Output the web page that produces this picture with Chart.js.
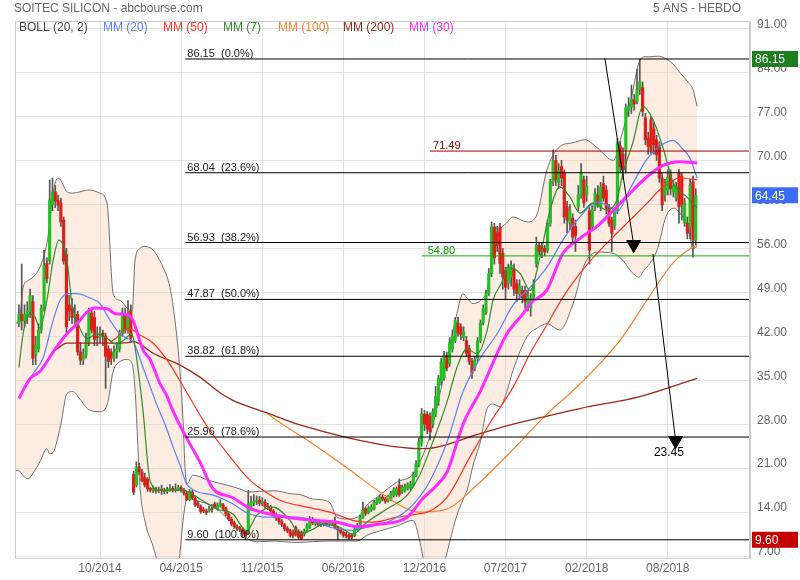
<!DOCTYPE html>
<html>
<head>
<meta charset="utf-8">
<script src="https://cdn.jsdelivr.net/npm/chart.js@4.4.0/dist/chart.umd.min.js"></script>
<style>
  html, body { margin: 0; padding: 0; background: #fff; }
  #wrap { width: 800px; height: 580px; }
</style>
</head>
<body>
<div id="wrap"><canvas id="chart" width="800" height="580"></canvas></div>
<script>
// weekly candles, index 0 = first week shown
const tickWeeks = [29, 58, 87, 116, 145, 174, 203, 232];
const tickLabels = ['10/2014', '04/2015', '11/2015', '06/2016', '12/2016', '07/2017', '02/2018', '08/2018'];
const yTicks = [7, 14, 21, 28, 35, 42, 49, 56, 63, 70, 77, 84, 91];

const opens = [44,45.5,44.5,45,46,47.5,39,40,43,46.5,
  53.6,54,63,65,63.7,63.2,60.5,55,47,46.5,
  45,45.5,39.5,38.3,39,41,45.7,45,42,41.8,
  42.5,42,40,39.5,38.5,39.5,40,42.4,45.5,43,
  46,20,18.3,21.2,20.4,19.5,19.3,17.8,17.5,17.7,
  17.4,17.6,17.5,17.3,17.6,17.8,17.5,17.7,17.9,17.5,
  17,16,17.2,16.2,15.4,14.9,14.3,14.2,14.2,14.5,
  15.3,14.6,15,15.2,14.6,13.7,12.9,12.3,11.7,11.5,
  11.3,10.8,10.8,14.8,15.5,15.7,15.9,15.4,15.6,14.9,
  14.8,14.2,13.6,13,12.5,12,11.4,11.1,10.7,11.6,
  10.9,10.8,10.5,11,11.6,12.8,12.2,12.4,12,12.1,
  12.2,12,12.1,12.2,11.5,11.2,10.8,10.5,10.3,10.4,
  10.3,11.3,11.9,13.2,14.5,13.9,14.4,14.5,15.5,15.6,
  16.4,16.1,15.8,16,16.7,16.8,18.3,17.2,17.5,17.8,
  17.8,18.3,19.9,21.5,25,29.6,29.6,29.3,28,29.6,
  31.6,34.8,35.3,38.9,37.7,40,41.3,44.1,43.5,41.8,
  41.3,40.1,38,37,38.5,41.3,44.1,45.8,48.8,52,
  59.4,58.5,59.4,55.2,52.5,50.5,51.5,52.8,50.4,48.8,
  49.3,49.3,46.8,46.5,48.1,53.6,56.5,56.3,56,55.7,
  60,66.6,70,66.5,69,68,62.6,60,60.8,59.5,
  62.6,64.5,66.9,64.5,62,59.4,62.6,64.5,62.6,66.3,
  65.3,62.5,60.5,59.7,62.1,72.3,71,71.7,78,78.5,
  79.6,79.4,81.3,81.6,76.8,73.5,76.5,75,73.3,72.2,
  67.2,64.5,65.3,67.8,65,64,68,67.5,60,60,
  59.4,66.6,57.3];
const highs = [47,53.5,47,47.5,49.5,48.5,42,44,47,55.7,
  54.5,66.9,67.2,66,64.5,64,61,56,48.5,48,
  47,46,41,40,42.5,46.5,46.5,46,43.5,43.5,
  43,42.5,40.5,40,40.5,41,43,46.5,46.5,47.7,
  47,20.5,22,21.8,20.8,20.2,19.5,18,18.2,18,
  18,18.3,17.8,18,18.4,18.1,18.5,18.3,18.2,17.8,
  17.3,17.6,17.5,16.5,15.8,15.2,14.8,14.5,15,15.2,
  15.6,15.5,16,15.4,14.8,14,13.2,12.6,12,11.8,
  11.5,11,17.5,16.5,16.8,16.6,16.5,16.3,16,15.4,
  15.1,14.4,13.9,13.3,12.8,12.2,11.7,11.3,11.2,11.8,
  11.2,11,11.3,12.2,13.3,13.2,12.9,12.7,12.6,12.6,
  12.5,12.5,12.6,13.2,11.8,11.4,11,10.8,10.6,10.6,
  11.5,12.2,13.5,15.6,14.8,15,15.2,15.9,16.3,16.7,
  16.8,16.4,16.7,17.3,17.9,18,19.3,18.3,18.5,18.7,
  18.9,20.4,22.2,25.8,30.5,30.2,30,29.8,30.5,34,
  35.8,38.5,39.6,39.5,41.8,43,45,45,44,43.5,
  42,40.6,38.5,38.8,41.8,44.6,47,49.3,52.8,60.2,
  60,59.5,60,56,53,53.5,54,53.5,51,51,
  50,50,49.3,48.8,51,57.8,57,56.8,56.5,60.5,
  67,71.7,70.8,69.5,70,68.5,63.5,63,61.5,60.5,
  66,69.5,67.5,67.5,62.5,62.8,65.5,66,66.5,67.5,
  66,63,61,62.5,73.5,73,72,79,80,82,
  80.5,84.5,86.15,82.5,77.5,74.5,77,76,74,73,
  68,67,68.5,68.5,66.8,66.5,68.6,68,64,61,
  67,67.5,65.5];
const lows = [43.5,43,43.5,44,45,37.5,37.5,39.5,42.5,46,
  50.5,53.5,62,62.5,62,59.5,53.5,42.5,44.5,44,
  43.5,39,37.5,37.5,38.5,40.5,42.5,40.5,40.5,41,
  40.5,33.7,37,37.5,38,38.5,39.5,42,42.5,42.5,
  41,16.8,18,20,18.8,18,17.3,17.2,17.1,17,
  17.1,16.8,16.9,17,17.3,17.2,17.2,17.4,17.2,16.7,
  15.8,15.8,16,14.9,14.7,13.8,13.9,13.6,14,14,
  14.6,14.3,14.8,14.2,13.4,12.6,11.8,11.4,11,10.9,
  10,9.6,10.5,14.3,15,15.2,15,15,14.6,14.4,
  13.9,13.3,12.7,12.1,11.7,11,10.7,10,9.9,10.2,
  9.7,9.6,10.2,10.8,11.4,12,11.8,11.7,11.7,11.8,
  11.8,11.7,11.8,11.3,9.6,10.5,10,9.9,9.7,9.7,
  10.1,11.1,11.7,13,13.5,13.7,14.1,14.3,15.2,15.4,
  15.8,15.4,15.6,15.8,16.4,16.5,16.5,17,17.2,17.5,
  17.5,18,19.6,21.2,24.5,27,26.5,25.5,27.5,29.2,
  31,34.2,35,36.5,37.2,39.5,41,42,41.5,41.3,
  38.8,37.5,35.3,36.5,38,41,43.8,45.5,48.5,51.5,
  53.5,55.5,52,49.5,47.8,49.5,50,48.5,47.5,48,
  47.3,46.5,46,45.2,47.8,53,55,54.5,54.8,55.3,
  59.5,66,66,65.5,66,60,58.5,59,57,55.5,
  62,64,62.5,63.5,53.5,58.8,62,62.5,62,63.5,
  61.5,59.5,55.5,59,61.5,68,67,68,77,77.5,
  78,79,80.5,77,72.5,71,71,71,70,66.5,
  62,63.5,64.5,64.5,64.2,63.5,60,60.5,59.5,57.5,
  57.5,54.6,56.5];
const closes = [45.5,44.5,45.5,46,48.5,38.5,40.5,43,46.5,53.3,
  51.2,63.7,65,63.5,62.9,60.2,54,43.5,46,45,
  45.5,39.5,38.2,39,41,45.7,43,41.5,41.8,42.5,
  42,38.8,38,38.5,39.5,40,42.4,45.7,43,45.7,
  41.7,17.2,21.2,20.4,19,18.3,17.7,17.5,17.7,17.4,
  17.6,17.5,17.3,17.6,17.8,17.5,17.7,17.9,17.5,17,
  16,17.3,16.3,15.2,15,14.1,14.2,13.9,14.5,14.4,
  14.8,15.1,15.4,14.5,13.7,12.9,12.1,11.7,11.4,11.3,
  10.5,10.2,15.3,15.6,15.7,15.9,15.4,15.7,14.9,14.8,
  14.2,13.6,13,12.5,12,11.3,11,10.3,10.2,10.5,
  10,9.8,11,11.9,12.9,12.3,12.5,12,12.2,12.3,
  12,12.1,12.2,11.5,11.2,10.8,10.3,10.2,9.9,10,
  11.3,11.9,13.2,14.3,13.8,14.6,14.8,15.6,16,16.4,
  16.1,15.7,16.4,17,17.5,17.7,16.8,17.9,18.1,18.3,
  18.5,20,21.7,25.2,29.6,28,27.2,26.8,30,32.4,
  35.3,38,38.9,37,41,42,44.5,42.5,42.3,42.7,
  39.3,38,36.1,38.2,41.3,44.1,46.4,48.8,52,59.4,
  54.5,56.5,53.6,51.4,49.8,52.8,53.3,49.5,48.8,50,
  48.1,47.5,48.5,48,50.2,56.5,55.5,55.6,55.4,60,
  66.6,70,66.9,68.5,67.2,61,60.5,62,57.8,58,
  64.5,68,63.2,66,55.7,62.1,64.8,63.2,65.8,64,
  62.4,60,58.4,62,72.8,69,68.5,78.4,78.6,79.8,
  79,81.3,82.5,77.8,73.3,72.2,71.7,72.5,70.9,67.2,
  62.9,66.3,67.4,65.5,66,65.8,62.6,63,63.2,58.4,
  66,57.3,64.45];

// Bollinger (20, 2): week index, upper, lower
const bandWeek = [-1.4,0,1.5,3.3,5,7.5,10,11,12.2,14,15,17.2,19.3,21.8,25,28.9,31.5,33.7,36.2,38.7,
  40.5,41.5,43.3,45.1,48,51.5,54,55.8,57.6,58.7,59.4,60.1,62.2,67.6,70.9,74.4,79,82,86,91.5,
  97.5,100.5,105,111,113.7,117.3,121,124.4,129,135.2,140.9,143.4,146,147.5,151.5,156.6,158.8,160.4,162.4,165,
  167.4,169.6,172,174.3,176.6,181.8,185.3,188.8,193.4,198,202.3,206.8,212.5,215.5,219,221.6,223.5,225.6,228.4,231.3,
  234.2,236.7,239.2,241,242.5];
const bandUpper = [44.1,44.3,49.8,50.9,51.4,53,56.8,60,64.8,67.2,66.8,65,64.8,65,65.3,64.8,63.2,48.8,47.7,46.5,
  46,54,56,56.3,55.7,53,49.8,44.5,36.4,28.4,21,18.5,19.9,19.1,18.7,18.3,17.7,17.2,17.3,17.4,
  16.9,16.8,16.1,15.6,13.2,12.9,13.2,15.1,16.7,18.8,20,22,24.8,27,34.8,45.6,48.8,48,47.2,47.7,
  49.3,55,58.9,60,61,60.2,61.5,68.5,72.2,72.8,73.3,72,70,74,80,85.5,86.5,86.5,86.6,86.2,
  85.2,83.8,82.5,81.3,78.6];
const bandLower = [20.6,20.6,19.8,19.3,20.2,22,24.1,23.3,23.5,26,28,32.9,33.2,32,30.3,30,31,36.4,38,38.3,
  37.6,33.7,18,12.5,8.5,3,0,0,7.5,12.7,15,16.5,16,15.3,14.5,13,11.3,9.7,9.3,9.4,
  9.2,9.2,9.3,9.4,9.4,9.4,9.4,10.3,11,11.8,12.7,9.2,3,0,5,13.5,16,17.7,21.5,25.2,
  30.5,31.2,30.8,33,36.5,42,43.3,44,43,47,53.5,55.4,55.2,54.3,52.3,51.4,52.5,53.6,56,61,
  62.4,61.4,59.4,56,56.3];

// moving averages: [week index, value]
const mm20 = [[3.3,34.5],[5,36],[8.6,38.5],[12.2,44.5],[14.7,47.7],[17.6,48.8],[20.8,48.8],[25.4,48.1],[29,47.2],[32.6,44.5],
  [36.1,42.4],[39,41.6],[40.8,41.2],[44.4,37],[46.9,34],[49.4,31],[52.9,27.2],[55.1,24.4],[57.6,21.5],[60.1,18.4],
  [69.4,16.7],[76.5,15.3],[81.5,13.9],[88.7,13.2],[99.4,13.2],[105.2,12.7],[111.2,11.6],[119.4,11.1],[124.4,11.6],[131.6,12.4],
  [138.8,14.3],[143.4,16.5],[147,19],[153.1,25.2],[158.8,33.2],[164.9,38.5],[171,42.4],[176.7,47],[182.8,49.8],[188.8,53],
  [194.5,57.3],[200.6,61],[206.7,63.4],[211.3,62.6],[213.8,61.8],[218.5,65.5],[224.6,70.2],[230.3,72.6],[233.9,73.2],[237.4,71.8],
  [239.9,70.4],[242.5,67.2]];
const mm50 = [[32.6,41],[34.4,41.6],[39,43.3],[43.3,42.2],[48,40.9],[53,38.2],[60.1,33],[65.8,28.7],[68.3,27],[75.5,22.8],
  [82.6,19.1],[87.3,17.5],[93.3,15.9],[103,14.8],[111.2,14],[119.4,12.7],[126.6,12.4],[135.2,13.2],[141,13.6],[147,14.2],
  [153.1,16.4],[161.3,22.8],[168.4,28.2],[176.7,33.9],[182.8,39.3],[188.1,43.3],[194.5,48.2],[200.6,52],[206.7,55.2],[212.4,57.8],
  [218.5,60.5],[224.6,63.2],[230.3,65.8],[236.4,67.2],[242.5,66.9]];
const mm7 = [[0,37],[1.5,42.4],[4,45.6],[5.8,45],[7.5,43.3],[10,47.7],[12.2,54],[14.3,57.3],[17.2,54],[19,47.2],
  [21.8,43.3],[24.3,41.6],[27.9,42.4],[31.5,41.7],[34.4,40.8],[37.2,41.3],[40.4,42.4],[41.5,40.3],[44.4,30],[46.9,19],
  [50.4,17.5],[58.6,17.5],[64.7,16.1],[70.8,14.5],[76.5,13.7],[81.5,11],[85,13.5],[90.9,14.8],[96.9,12.7],[100.5,10.5],
  [105.2,11.3],[108.7,12.1],[114.8,11.6],[119.4,10.5],[124.4,12.4],[131.6,14.5],[138.8,16.7],[143.4,20],[147,24],[153.1,31.6],
  [156.6,37],[160.2,40],[163.8,39.2],[167.4,42.9],[169.5,47.7],[173.1,51],[174.5,53],[179.2,52],[182.8,49.3],[186.3,54.6],
  [189.9,62.1],[193.4,65.8],[197,64.2],[200.6,61.6],[205.2,63.2],[210.3,62.1],[213.8,63.7],[216,68],[219.5,72.8],[223.1,78.6],
  [226.7,76.5],[230.3,72],[233.9,66.5],[238.8,64.2],[242.5,62.4]];
const mm100 = [[88.7,29.7],[94.5,27.9],[103,25.5],[117.5,21],[129,17.2],[138.8,14.5],[143.4,14],[153.1,14.5],[164.9,18.8],
  [176.7,24],[188.8,29.6],[200.6,34.4],[215,41.4],[224.6,47.8],[233.9,53.7],[241,56.2],[242.5,56.5]];
const mm200 = [[12.5,39.6],[17.2,40.9],[32,40.9],[39,41],[40.8,41.2],[48,39.3],[57.6,37.4],[64.7,35.5],[71.9,33],[76.5,31.8],
  [88.7,29.8],[100.5,27.9],[129.1,24.8],[144.5,24.1],[164.9,26.5],[176.7,28],[188.8,29.3],[200.6,30.5],[222,32.4],[242.5,35.3]];
const mm30 = [[0,32.1],[4,35.3],[7.5,36.4],[13,40],[17.2,42.4],[20.8,44],[24.7,46],[27.2,46.5],[31.5,46.4],[34.4,45.6],
  [39,45.4],[40.8,44.5],[44.4,39.8],[46.9,38.3],[50.4,34.5],[52.9,32.5],[54.7,30.5],[60.1,25.7],[64.7,22],[69.3,17.8],
  [76.5,16.3],[82.6,14.6],[90.9,13.6],[100.5,12.9],[105.2,12.7],[113.8,12.4],[120.9,11.7],[129.1,12.1],[138.8,13.2],[144.5,16.2],
  [148.8,18],[153.1,20.4],[158.8,28],[164.9,33.2],[174.5,42.4],[180.3,45.6],[182.8,47.2],[188.8,49.4],[194.5,55.2],[200.6,57.6],
  [206.7,59.5],[212.4,62],[218.5,64.8],[224.6,67.4],[230.3,69.2],[236.4,69.8],[242.5,69.6]];

// Fibonacci retracement between 86.15 and 9.60
const fibLevels = [86.15, 68.04, 56.93, 47.87, 38.82, 25.96, 9.60];
const fibPct = ['0.0%', '23.6%', '38.2%', '50.0%', '61.8%', '78.6%', '100.0%'];
const fibStart = 59.5;
const resistance = 71.49, resistanceStart = 147;
const support = 54.80, supportStart = 144;
const arrow1 = [[209.5, 86.3], [219.8, 56.6]];
const arrow2 = [[226.7, 55.1], [234.8, 25.4]];
const target = 23.45, targetWeek = 232.4;
const lastClose = 64.45, periodHigh = 86.15, periodLow = 9.60;

const legendLabels = ['BOLL (20, 2)', 'MM (20)', 'MM (50)', 'MM (7)', 'MM (100)', 'MM (200)', 'MM (30)'];
const legendColors = ['#444', '#5a82ff', '#ff3322', '#2d8f2d', '#ff8030', '#9b2a1a', '#ff2cff'];
const legendX = [19, 103, 163, 223, 278, 343, 409];

const X_MIN = -1.4, X_MAX = 261.4;
const font = '"Liberation Sans", Arial, sans-serif';
const pts = arr => arr.map(p => ({x: p[0], y: p[1]}));

function maLine(label, data, color, width, order) {
    return {
        type: 'line', label: label, data: pts(data),
        borderColor: color, borderWidth: width, pointRadius: 0,
        cubicInterpolationMode: 'monotone', fill: false, order: order
    };
}
function hLine(value, start, color) {
    return {
        type: 'line', data: [{x: start, y: value}, {x: X_MAX, y: value}],
        borderColor: color, borderWidth: 1, pointRadius: 0, fill: false, order: 2
    };
}
function arrow(data) {
    return {
        type: 'line', data: pts(data), borderColor: '#000', borderWidth: 1,
        pointRadius: [0, 8], pointStyle: 'triangle', rotation: 180,
        pointBackgroundColor: '#000', pointBorderColor: '#000', fill: false, order: 1
    };
}

const weeks = opens.map((o, i) => i);
const upColor = '#22c022', downColor = '#dd1f17';

const datasets = [
    {
        type: 'line', label: 'bollUp', data: bandWeek.map((w, k) => ({x: w, y: bandUpper[k]})),
        borderColor: '#707070', borderWidth: 1, pointRadius: 0, cubicInterpolationMode: 'monotone',
        fill: false, order: 20
    },
    {
        type: 'line', label: 'bollDown', data: bandWeek.map((w, k) => ({x: w, y: bandLower[k]})),
        borderColor: '#707070', borderWidth: 1, pointRadius: 0, cubicInterpolationMode: 'monotone',
        fill: '-1', backgroundColor: 'rgba(250,205,175,0.38)', order: 20
    },
    {
        type: 'bar', label: 'wick', data: weeks.map(i => ({x: i, y: [lows[i], highs[i]]})),
        backgroundColor: '#555', barThickness: 1, grouped: false, order: 12
    },
    {
        type: 'bar', label: 'body', data: weeks.map(i => ({x: i, y: [opens[i], closes[i]]})),
        backgroundColor: weeks.map(i => closes[i] >= opens[i] ? upColor : downColor),
        barThickness: 2.5, minBarLength: 1, grouped: false, order: 11
    },
    maLine('MM (200)', mm200, '#9b2a1a', 1.3, 9),
    maLine('MM (100)', mm100, '#ff8030', 1.2, 10),
    maLine('MM (50)', mm50, '#ff3322', 1.2, 7),
    maLine('MM (20)', mm20, '#5a82ff', 1.2, 6),
    maLine('MM (7)', mm7, '#2d8f2d', 1.2, 5),
    maLine('MM (30)', mm30, '#ff2cff', 3, 4),
    ...fibLevels.map(v => hLine(v, fibStart, '#000')),
    hLine(resistance, resistanceStart, '#a00000'),
    hLine(support, supportStart, '#00b400'),
    arrow(arrow1),
    arrow(arrow2)
];

const overlay = {
    id: 'overlay',
    afterDraw(chart) {
        const ctx = chart.ctx;
        const a = chart.chartArea;
        const x = chart.scales.x, y = chart.scales.y;
        ctx.save();
        ctx.strokeStyle = '#cccccc';
        ctx.lineWidth = 1;
        ctx.strokeRect(a.left + 0.5, a.top + 0.5, a.right - a.left - 1, a.bottom - a.top);

        ctx.font = '12px ' + font;
        ctx.textBaseline = 'middle';
        ctx.fillStyle = '#666';
        ctx.textAlign = 'left';
        ctx.fillText('SOITEC SILICON - abcbourse.com', 14, 9);
        ctx.textAlign = 'right';
        ctx.fillText('5 ANS - HEBDO', 741, 9);

        ctx.textAlign = 'left';
        legendLabels.forEach((t, k) => {
            ctx.fillStyle = legendColors[k];
            ctx.fillText(t, legendX[k], 28);
        });

        ctx.font = '11px ' + font;
        ctx.textBaseline = 'alphabetic';
        ctx.fillStyle = '#222';
        const fx = x.getPixelForValue(fibStart) + 2;
        fibLevels.forEach((v, k) => {
            ctx.fillText(v.toFixed(2) + '  (' + fibPct[k] + ')', fx, y.getPixelForValue(v) - 2);
        });
        ctx.fillStyle = '#990000';
        ctx.fillText(resistance.toFixed(2), x.getPixelForValue(resistanceStart) + 3, y.getPixelForValue(resistance) - 2);
        ctx.fillStyle = '#00a000';
        ctx.fillText(support.toFixed(2), x.getPixelForValue(supportStart) + 6, y.getPixelForValue(support) - 2);

        ctx.font = '12px ' + font;
        ctx.textBaseline = 'middle';
        ctx.textAlign = 'center';
        ctx.fillStyle = '#000';
        ctx.fillText(target.toFixed(2), x.getPixelForValue(targetWeek), y.getPixelForValue(target));

        const tags = [[periodHigh, '#1e7d1e'], [lastClose, '#3b6cf2'], [periodLow, '#c40000']];
        ctx.textAlign = 'left';
        tags.forEach(t => {
            const py = y.getPixelForValue(t[0]);
            ctx.fillStyle = t[1];
            ctx.fillRect(752, py - 8, 46, 16);
            ctx.fillStyle = '#fff';
            ctx.fillText(t[0].toFixed(2), 755, py + 1);
        });
        ctx.restore();
    }
};

const ctx = document.getElementById('chart');
const chart = new Chart(ctx, {
    type: 'line',
    data: { datasets: datasets },
    options: {
        responsive: false,
        animation: false,
        layout: { padding: { left: 15, right: 0, top: 21, bottom: 0 } },
        plugins: { legend: { display: false }, tooltip: { enabled: false } },
        scales: {
            x: {
                type: 'linear', min: X_MIN, max: X_MAX, offset: false,
                afterBuildTicks: s => { s.ticks = tickWeeks.map(v => ({value: v})); },
                afterFit: s => { s.height = 22; },
                ticks: {
                    callback: (v, i) => tickLabels[i], color: '#666', padding: 3,
                    maxRotation: 0, autoSkip: false, font: { family: font, size: 12 }
                },
                grid: { color: '#e3e3e3', drawTicks: false, offset: false },
                border: { color: '#cccccc' }
            },
            y: {
                type: 'linear', position: 'right', min: 6.7, max: 92.2,
                afterBuildTicks: s => { s.ticks = yTicks.map(v => ({value: v})); },
                afterFit: s => { s.width = 50; },
                ticks: {
                    callback: v => v.toFixed(2), color: '#666', padding: 7, labelOffset: -4,
                    font: { family: font, size: 12 }
                },
                grid: { color: '#e3e3e3', drawTicks: false },
                border: { color: '#cccccc' }
            }
        }
    },
    plugins: [overlay]
});
</script>
</body>
</html>
